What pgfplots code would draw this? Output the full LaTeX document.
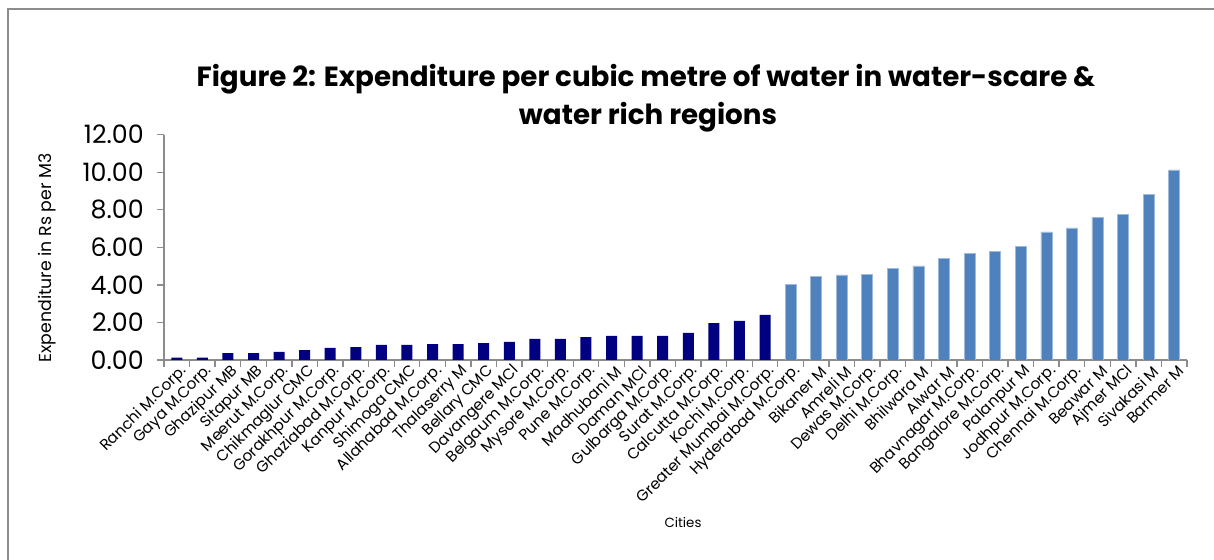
\documentclass[border=0pt]{standalone}
\usepackage{fontspec}
\setmainfont{Poppins}
\usepackage{pgfplots}
\pgfplotsset{compat=1.18}
\definecolor{navybar}{HTML}{000080}
\definecolor{lblue}{HTML}{4F81BD}
\definecolor{axgray}{HTML}{8C8C8C}
\begin{document}
\begin{tikzpicture}[x=0.75pt,y=0.75pt]
\useasboundingbox (0,0) rectangle (1214,560);
\draw[axgray, line width=1.5pt] (8,-30) -- (8,551) -- (1250,551);
\node[anchor=base, font=\bfseries\fontsize{20.8}{24}\selectfont] at (646,473) {Figure 2: Expenditure per cubic metre of water in water-scare \&};
\node[anchor=base, font=\bfseries\fontsize{20.8}{24}\selectfont] at (648,435) {water rich regions};
\node[rotate=90, font=\fontsize{13}{15}\selectfont] at (47,302) {Expenditure in Rs per M3};
\node[font=\fontsize{10}{12}\selectfont] at (683,38) {Cities};
\begin{axis}[
  at={(123pt,150pt)}, anchor=south west,
  scale only axis, width=767.25pt, height=169pt,
  ybar, bar shift=0pt, bar width=0.43,
  xmin=-0.5, xmax=39.5, ymin=0, ymax=12,
  axis x line*=bottom, axis y line*=left,
  axis line style={axgray, line width=1.2pt},
  tick align=outside, major tick length=5pt, minor tick length=5pt,
  tick style={axgray, line width=1pt},
  major x tick style={draw=none},
  ytick={0,2,...,12},
  xtick={0,...,39},
  minor xtick={-0.5,0.5,...,39.5},
  xticklabels={Ranchi M.Corp., Gaya M.Corp., Ghazipur MB, Sitapur MB, Meerut M.Corp., Chikmaglur CMC, Gorakhpur M.Corp., Ghaziabad M.Corp., Kanpur M.Corp., Shimoga CMC, Allahabad M.Corp., Thalaserry M, Bellary CMC, Davangere MCl, Belgaum M.Corp., Mysore M.Corp., Pune M.Corp., Madhubani M, Daman MCl, Gulbarga M.Corp., Surat M.Corp., Calcutta M.Corp., Kochi M.Corp., Greater Mumbai M.Corp., Hyderabad M.Corp., Bikaner M, Amreli M, Dewas M.Corp., Delhi M.Corp., Bhilwara M, Alwar M, Bhavnagar M.Corp., Bangalore M.Corp., Palanpur M, Jodhpur M.Corp., Chennai M.Corp., Beawar M, Ajmer MCl, Sivakasi M, Barmer M},
  xticklabel style={rotate=45, anchor=east, inner sep=0pt, font=\fontsize{11.5}{13}\selectfont, xshift=3pt, yshift=-5pt},
  yticklabel style={font=\fontsize{19}{22}\selectfont, inner sep=0pt, xshift=-10pt},
  /pgf/number format/.cd, fixed, fixed zerofill, precision=2, assume math mode=true,
]
\addplot[fill=navybar, draw=none] coordinates {
(0,0.12) (1,0.12) (2,0.37) (3,0.37) (4,0.43) (5,0.53) (6,0.64) (7,0.69)
(8,0.80) (9,0.80) (10,0.85) (11,0.85) (12,0.90) (13,0.96) (14,1.12) (15,1.12)
(16,1.22) (17,1.28) (18,1.28) (19,1.28) (20,1.44) (21,1.97) (22,2.08) (23,2.40)
};
\addplot[fill=lblue, draw=lblue!55!white, line width=0.5pt] coordinates {
(24,4.01) (25,4.45) (26,4.53) (27,4.54) (28,4.88) (29,5.01) (30,5.40) (31,5.68)
(32,5.77) (33,6.07) (34,6.82) (35,7.03) (36,7.61) (37,7.77) (38,8.84) (39,10.12)
};
\end{axis}
\end{tikzpicture}
\end{document}
